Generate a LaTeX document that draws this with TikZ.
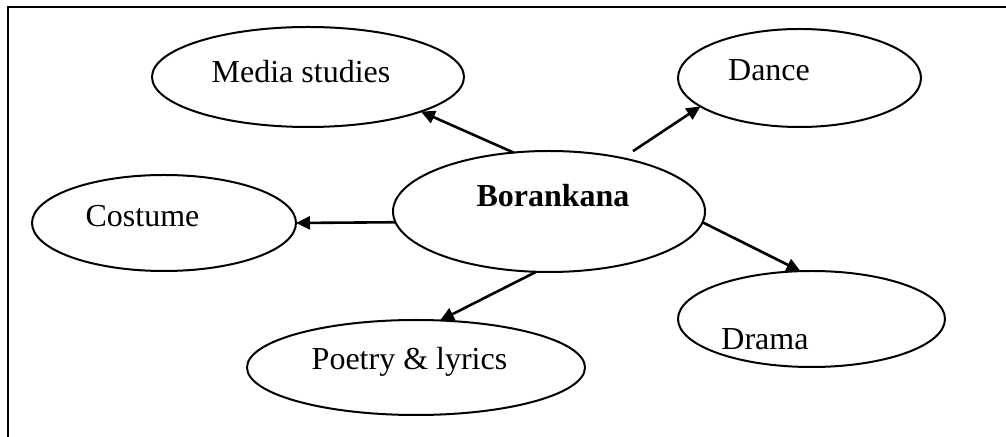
\documentclass[tikz,border=0pt]{standalone}
\usepackage{fontspec}
\setmainfont{Liberation Serif}
\usetikzlibrary{shapes.geometric,arrows.meta}
\tikzset{
  topic/.style={ellipse,draw,line width=1pt,inner sep=0pt,outer sep=0pt},
  caption/.style={anchor=base,inner sep=0pt,font=\fontsize{16}{19}\selectfont},
  link/.style={line width=1.3pt,-{Triangle[length=7pt,width=6.5pt]}},
  frame/.style={line width=1.3pt}
}
\begin{document}
\begin{tikzpicture}[x=0.5pt,y=-0.5pt]
\useasboundingbox (0,0) rectangle (1006,437);
\clip (0,0) rectangle (1006,437);
% frame (runs on past the right and bottom edges)
\coordinate (fbl) at (8,440);
\coordinate (ftl) at (8,7);
\coordinate (ftr) at (1010,7);
\draw[frame] (fbl) -- (ftl) -- (ftr);

% ellipses
\node[topic,minimum width=156pt,minimum height=50pt]   (media)   at (308,77) {};
\node[topic,minimum width=121.5pt,minimum height=49pt] (dance)   at (799.5,78) {};
\node[topic,minimum width=132pt,minimum height=48pt]   (costume) at (164,223) {};
\node[topic,minimum width=156pt,minimum height=60.5pt] (bor)     at (549,211.5) {};
\node[topic,minimum width=169pt,minimum height=47.5pt] (poetry)  at (416,367.5) {};
\node[topic,minimum width=133.5pt,minimum height=48pt] (drama)   at (811.5,319) {};

% labels
\node[caption] (mediat)   at (301,83)    {Media studies};
\node[caption] (dancet)   at (769,81)    {Dance};
\node[caption] (costumet) at (142.5,227) {Costume};
\node[caption,font=\fontsize{16}{19}\selectfont\bfseries] (bort) at (553,207) {Borankana};
\node[caption] (poetryt)  at (409.5,370) {Poetry \& lyrics};
\node[caption] (dramat)   at (765,350)   {Drama};

% connectors
\draw[link] (bor.121) -- (media.-17);
\draw[link,shorten <=6.3pt] (bor.36.4) -- (dance.196);
\draw[link] (bor.184) -- (costume.east);
\draw[link] (bor.-4.3) -- (drama.103.7);
\draw[link] (bor.258.8) -- (poetry.63.2);
\end{tikzpicture}
\end{document}
